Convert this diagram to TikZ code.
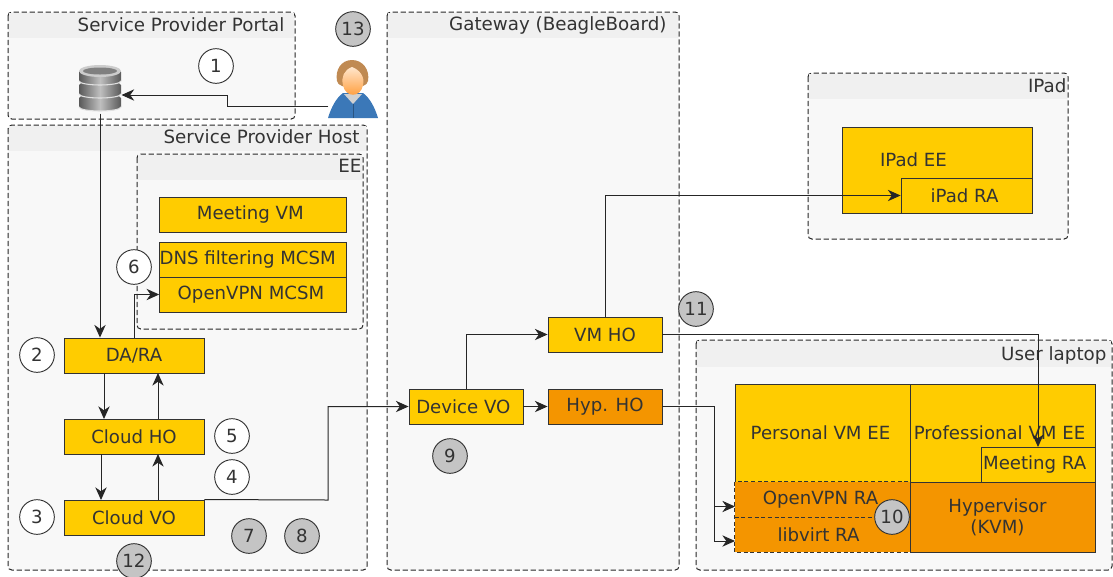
\documentclass[tikz,border=0pt]{standalone}
\usepackage{fontspec}
\usetikzlibrary{arrows.meta}
\setmainfont{DejaVu Sans}
\definecolor{boxyellow}{HTML}{FFCC00}
\definecolor{boxorange}{HTML}{F49500}
\definecolor{panelgrey}{HTML}{F8F8F8}
\definecolor{bandgrey}{HTML}{F0F0F0}
\definecolor{inkgrey}{HTML}{333333}
\definecolor{hoodblue}{HTML}{3B78B8}
\definecolor{hairbrown}{HTML}{C08A52}
\begin{document}
\begin{tikzpicture}[x=.75pt, y=-.75pt, thick,
    panel/.style={draw=black!85, dash pattern=on 4pt off 2pt, line width=.75pt, rounded corners=1mm, fill=panelgrey},
    paneltitle/.style={anchor=base east, inner sep=0pt, text=inkgrey, font=\fontsize{13.7}{15}\selectfont},
    block/.style={draw=inkgrey, fill=boxyellow, line width=.7pt, text=inkgrey, inner sep=0pt, font=\fontsize{13.6}{15.5}\selectfont, align=center},
    hblock/.style={block, fill=boxorange},
    blocktext/.style={inner sep=0pt, text=inkgrey, font=\fontsize{13.6}{15.5}\selectfont},
    num/.style={circle, draw=inkgrey, fill=white, line width=.7pt, minimum size=26pt, inner sep=0pt, text=inkgrey, font=\fontsize{13.6}{15}\selectfont},
    gnum/.style={num, fill=black!23},
    link/.style={draw=black!85, line width=.75pt, -{Stealth[length=9.5pt,width=8.5pt,inset=3pt]}}]

\useasboundingbox (0,0) rectangle (1113,576);

\draw[panel] (8,12) rectangle (295,119);
\fill[bandgrey] (9,13) rectangle (294,38);
\node[paneltitle] (portal) at (285,31) {Service Provider Portal};

\draw[panel] (8,125) rectangle (367,570);
\fill[bandgrey] (9,126) rectangle (366,151);
\node[paneltitle] (host) at (360,143) {Service Provider Host};

\draw[panel] (137,154) rectangle (363,329);
\fill[bandgrey] (138,155) rectangle (362,180);
\node[paneltitle] (ee) at (362,172) {EE};

\draw[panel] (387,12) rectangle (679,570);
\fill[bandgrey] (388,13) rectangle (678,38);
\node[paneltitle] (gateway) at (667,30) {Gateway (BeagleBoard)};

\draw[panel] (808,73) rectangle (1068,239);
\fill[bandgrey] (809,74) rectangle (1067,99);
\node[paneltitle] (ipad) at (1067,92) {IPad};

\draw[panel] (696,340) rectangle (1112,570);
\fill[bandgrey] (697,341) rectangle (1111,367);
\node[paneltitle] (laptop) at (1107,360) {User laptop};

\node[block, minimum width=140pt, minimum height=26.25pt] (meetingvm) at (253,214.5) {Meeting VM\hspace*{4pt}};
\node[block, minimum width=140pt, minimum height=26.25pt] (dns) at (253,259.5) {DNS filtering MCSM\hspace*{8pt}};
\node[block, minimum width=140pt, minimum height=26.25pt] (openvpnm) at (253,294.5) {OpenVPN MCSM\hspace*{3pt}};

\node[block, minimum width=105pt, minimum height=26.25pt] (dara) at (134,355.5) {DA/RA};
\node[block, minimum width=105pt, minimum height=26.25pt] (cloudho) at (134,436.5) {Cloud HO};
\node[block, minimum width=105pt, minimum height=26.25pt] (cloudvo) at (134,517.5) {Cloud VO};

\node[block, minimum width=85.5pt, minimum height=26.25pt] (devicevo) at (466,406.5) {Device VO\hspace*{4pt}};
\node[block, minimum width=85.5pt, minimum height=26.25pt] (vmho) at (605,334.5) {VM HO};
\node[hblock, minimum width=85.5pt, minimum height=26.25pt] (hypho) at (605,406.5) {Hyp. HO};

\node[block, minimum width=142.5pt, minimum height=64.5pt] (ipadee) at (937,170) {};
\node[blocktext] (ipadeetext) at (913.5,160) {IPad EE};
\node[block, minimum width=98.25pt, minimum height=26.25pt] (ipadra) at (966.5,195.5) {iPad RA\hspace*{3pt}};

\node[block, minimum width=131.25pt, minimum height=73.5pt] (personal) at (822.5,433) {Personal VM EE\hspace*{3pt}};
\node[block, minimum width=138.75pt, minimum height=73.5pt] (professional) at (1002.5,433) {};
\node[blocktext] (professionaltext) at (999.5,433) {Professional VM EE};
\node[block, minimum width=85.5pt, minimum height=26.25pt] (meetingra) at (1038,464.5) {Meeting RA\hspace*{5pt}};
\node[hblock, minimum width=131.25pt, minimum height=26.25pt, draw=none] (openvpnra) at (822.5,499.5) {OpenVPN RA\hspace*{3pt}};
\node[hblock, minimum width=131.25pt, minimum height=26.25pt, draw=none] (libvirt) at (822.5,534.5) {libvirt RA\hspace*{6pt}};
\node[hblock, minimum width=138.75pt, minimum height=52.5pt] (hypervisor) at (1002.5,517) {Hypervisor\hspace*{7.5pt}\\(KVM)\hspace*{7.5pt}};
\draw[draw=inkgrey, dash pattern=on 3pt off 2pt, line width=.7pt] (openvpnra.north west) rectangle (libvirt.south east) (openvpnra.south west) -- (openvpnra.south east);

\node[minimum width=31.5pt, minimum height=36pt, inner sep=0pt] (db) at (100,89) {};
\foreach \y in {98,85,72} {
    \shade[left color=black!65, right color=black!65, middle color=black!25] (79,\y) -- (79,\y+9) arc[start angle=180, end angle=0, x radius=21, y radius=4] -- (121,\y) arc[start angle=0, end angle=-180, x radius=21, y radius=4] -- cycle;
    \draw[black!12, line width=.8pt] (79,\y+9) arc[start angle=180, end angle=0, x radius=21, y radius=4];
}
\fill[black!20] (100,71) ellipse[x radius=21, y radius=6];
\fill[black!50] (100,71) ellipse[x radius=17, y radius=3.5];

\node[minimum width=36pt, minimum height=44pt, inner sep=0pt] (user) at (353,89) {};
\fill[hoodblue] (328,118) .. controls (331,108) and (336,98) .. (343,93) -- (363,93) .. controls (370,98) and (375,108) .. (378,118) -- cycle;
\fill[black!18] (344,94) -- (353,104) -- (362,94) -- cycle;
\draw[hoodblue!70!black, line width=.5pt] (353,104) -- (353,118);
\fill[hairbrown] (352,60) .. controls (341,60) and (335,70) .. (337,81) .. controls (338,90) and (367,90) .. (368,81) .. controls (370,70) and (363,60) .. (352,60) -- cycle;
\shade[top color=orange!20!white, bottom color=orange!80!white] (352,67) .. controls (344,70) and (341,77) .. (343,85) .. controls (345,98) and (361,98) .. (363,85) .. controls (365,77) and (360,70) .. (352,67) -- cycle;

\draw[link] (user.west |- 0,106) -| (227,95) -- (db.east |- 0,95);
\draw[link] (db.south) -- (db.south |- dara.north);
\draw[link] (dara.north) -- (134,294.5) -- (openvpnm.west);
\draw[link] (104,373) -- (104,419);
\draw[link] (158,419) -- (158,373);
\draw[link] (101,454) -- (101,500);
\draw[link] (158,500) -- (158,454);
\draw[link] (cloudvo.north east) -- (328,500) -- (328,406.5) -- (devicevo.west);
\draw[link] (devicevo.north) |- (vmho.west);
\draw[link] (devicevo.east) -- (hypho.west);
\draw[link] (vmho.north) |- (ipadra.west);
\draw[link] (vmho.east) -| (1038,447);
\draw[link] (hypho.east) -- (714,406.5) |- (735,506.5);
\draw[link] (714,506.5) |- (735,541);

\node[num] (n1) at (216,66) {1};
\node[num] (n2) at (37,355) {2};
\node[num] (n3) at (37,517) {3};
\node[num] (n4) at (232,477) {4};
\node[num] (n5) at (232,436) {5};
\node[num] (n6) at (134,267) {6};
\node[gnum] (n7) at (249,536) {7};
\node[gnum] (n8) at (302,536) {8};
\node[gnum] (n9) at (450,456) {9};
\node[gnum] (n10) at (892,517) {10};
\node[gnum] (n11) at (696,309) {11};
\node[gnum] (n12) at (134,561) {12};
\node[gnum] (n13) at (353,29) {13};
\end{tikzpicture}
\end{document}
